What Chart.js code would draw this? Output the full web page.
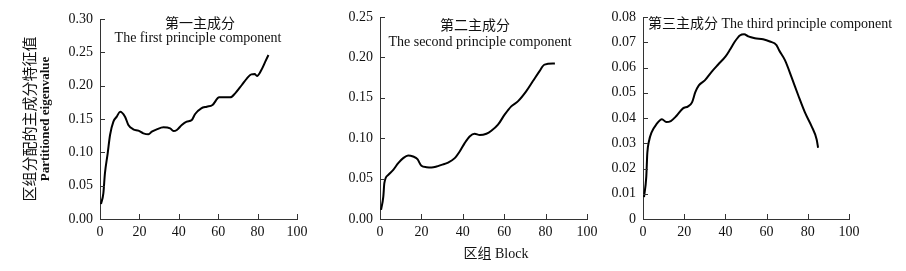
<!DOCTYPE html>
<html lang="en">
<head>
    <meta charset="UTF-8">
    <title>Partitioned eigenvalue</title>
    <style>
        body {
            margin: 0;
            padding: 0;
            background-color: #fff;
        }

        .wrap {
            position: relative;
            width: 906px;
            height: 271px;
            overflow: hidden;
        }

        .box {
            position: absolute;
            top: 0;
            height: 271px;
        }

        #box1 { left: 0; width: 320px; }
        #box2 { left: 300px; width: 310px; }
        #box3 { left: 600px; width: 306px; }
    </style>
</head>
<body>
    <div class="wrap">
        <div class="box" id="box1"><canvas id="chart1"></canvas></div>
        <div class="box" id="box2"><canvas id="chart2"></canvas></div>
        <div class="box" id="box3"><canvas id="chart3"></canvas></div>
    </div>

    <script src="https://cdn.jsdelivr.net/npm/chart.js"></script>
    <script>
        // block index (x) and eigenvalue (y)
        const blocks1 = [0.5, 1.7, 2.5, 3.9, 5.1, 6.8, 8.5, 10.2, 12.7, 14.4, 16.9, 19.5, 22, 24.6, 26.3, 28.8, 32.2, 35.6, 37.3, 39, 41.5, 44, 46.6, 48.3, 51.4, 54.2, 57.1, 60.5, 66.1, 68.6, 72, 74.6, 76.8, 78.5, 79.7, 81.9, 83.9, 85.5];
        const values1 = [0.0225, 0.0385, 0.0685, 0.0985, 0.126, 0.146, 0.1535, 0.161, 0.1535, 0.141, 0.1345, 0.1325, 0.1285, 0.127, 0.131, 0.1345, 0.1375, 0.136, 0.132, 0.1335, 0.141, 0.146, 0.1485, 0.1575, 0.166, 0.1685, 0.171, 0.1825, 0.1825, 0.1885, 0.201, 0.211, 0.217, 0.2175, 0.2145, 0.2235, 0.236, 0.246];

        const blocks2 = [0.5, 1.6, 2.1, 4, 6.4, 8.8, 11.2, 13.6, 16, 18.1, 20, 22.5, 24.9, 27.3, 29.7, 32.9, 36.1, 38.5, 40.9, 43.3, 45.7, 48.2, 51.4, 53.8, 57, 60.2, 63.4, 66.6, 70.6, 73.8, 77, 79.5, 84.5];
        const values2 = [0.0112, 0.0277, 0.0443, 0.0546, 0.0608, 0.0691, 0.0753, 0.0786, 0.0773, 0.0741, 0.0658, 0.0641, 0.0637, 0.0649, 0.067, 0.0699, 0.0753, 0.0835, 0.0939, 0.1021, 0.1055, 0.1039, 0.1055, 0.1092, 0.1167, 0.1291, 0.1394, 0.1456, 0.158, 0.1704, 0.1828, 0.1911, 0.1924];

        const blocks3 = [0.5, 1.6, 2.1, 2.9, 4.1, 6.5, 9.2, 11.3, 13.5, 16.2, 19.4, 21.9, 23.8, 25.4, 27.1, 30, 33.2, 36.5, 40, 42.1, 44.6, 47, 49.1, 51.1, 54.3, 58.3, 61.6, 64.8, 66, 68.9, 72.1, 75.4, 78.6, 81.8, 84.3, 85];
        const values3 = [0.0087, 0.0168, 0.0262, 0.0308, 0.0342, 0.0375, 0.0395, 0.0384, 0.0388, 0.0408, 0.0438, 0.0446, 0.0462, 0.0502, 0.0529, 0.0549, 0.0582, 0.0612, 0.0643, 0.0669, 0.0703, 0.0727, 0.0732, 0.0723, 0.0716, 0.0712, 0.0703, 0.0689, 0.0669, 0.0629, 0.0562, 0.0489, 0.0422, 0.0368, 0.0315, 0.0282];

        const xTicks = [0, 20, 40, 60, 80, 100];
        const yTicks1 = ['0.00', '0.05', '0.10', '0.15', '0.20', '0.25', '0.30'];
        const yTicks2 = ['0.00', '0.05', '0.10', '0.15', '0.20', '0.25'];
        const yTicks3 = ['0', '0.01', '0.02', '0.03', '0.04', '0.05', '0.06', '0.07', '0.08'];

        const titles1 = ['第一主成分', 'The first principle component'];
        const titles2 = ['第二主成分', 'The second principle component'];
        const titles3 = ['第三主成分 The third principle component'];
        const yTitle = ['区组分配的主成分特征值', 'Partitioned eigenvalue'];
        const xTitle = '区组 Block';

        const FONT = '"Liberation Serif", "Noto Sans CJK SC", serif';
        const INK = '#111';
        const AXIS = '#333';

        // short tick marks pointing into the plot, taken from the scales
        const innerTicks = {
            id: 'innerTicks',
            afterDraw(chart) {
                const ctx = chart.ctx;
                const area = chart.chartArea;
                ctx.save();
                ctx.strokeStyle = AXIS;
                ctx.lineWidth = 1;
                ctx.beginPath();
                chart.scales.x.ticks.forEach(t => {
                    const px = Math.round(chart.scales.x.getPixelForValue(t.value)) + 0.5;
                    ctx.moveTo(px, area.bottom);
                    ctx.lineTo(px, area.bottom - 5);
                });
                chart.scales.y.ticks.forEach(t => {
                    const py = Math.round(chart.scales.y.getPixelForValue(t.value)) + 0.5;
                    ctx.moveTo(area.left, py);
                    ctx.lineTo(area.left + 5, py);
                });
                ctx.stroke();
                ctx.restore();
            }
        };

        // free text (titles, axis names) placed on the canvas
        const notes = {
            id: 'notes',
            afterDraw(chart, args, opts) {
                const ctx = chart.ctx;
                (opts.items || []).forEach(n => {
                    ctx.save();
                    ctx.translate(n.x, n.y);
                    if (n.rotate) ctx.rotate(n.rotate);
                    ctx.font = n.font;
                    ctx.fillStyle = INK;
                    ctx.textAlign = n.align || 'center';
                    ctx.textBaseline = 'middle';
                    ctx.fillText(n.text, 0, 0);
                    ctx.restore();
                });
            }
        };

        function makeChart(id, blocks, values, yMax, yStep, yLabels, yWidth, pad, items) {
            const points = blocks.map((b, i) => ({ x: b, y: values[i] }));
            return new Chart(document.getElementById(id), {
                type: 'line',
                data: {
                    datasets: [{
                        data: points,
                        borderColor: '#000',
                        borderWidth: 2,
                        pointRadius: 0,
                        cubicInterpolationMode: 'monotone',
                        fill: false
                    }]
                },
                options: {
                    responsive: true,
                    maintainAspectRatio: false,
                    animation: false,
                    layout: { padding: pad },
                    plugins: {
                        legend: { display: false },
                        tooltip: { enabled: false },
                        notes: { items: items }
                    },
                    scales: {
                        x: {
                            type: 'linear',
                            min: 0,
                            max: 100,
                            afterBuildTicks: s => { s.ticks = xTicks.map(v => ({ value: v })); },
                            ticks: {
                                color: INK,
                                padding: 5,
                                maxRotation: 0,
                                autoSkip: false,
                                font: { family: FONT, size: 14 }
                            },
                            grid: { display: true, drawOnChartArea: false, drawTicks: false },
                            border: { display: true, color: AXIS, width: 1 },
                            afterFit: s => { s.height = 52; }
                        },
                        y: {
                            min: 0,
                            max: yMax,
                            ticks: {
                                stepSize: yStep,
                                color: INK,
                                padding: 7,
                                autoSkip: false,
                                font: { family: FONT, size: 14 },
                                callback: (v, i) => yLabels[i]
                            },
                            grid: { display: true, drawOnChartArea: false, drawTicks: false },
                            border: { display: true, color: AXIS, width: 1 },
                            afterFit: s => { s.width = yWidth; }
                        }
                    }
                },
                plugins: [innerTicks, notes]
            });
        }

        const cjk = '14px "Noto Sans CJK SC", sans-serif';
        const lat = '14px ' + FONT;

        makeChart('chart1', blocks1, values1, 0.30, 0.05, yTicks1, 100,
            { left: 0, right: 23, top: 19, bottom: 0 }, [
                { text: titles1[0], x: 200, y: 23, font: cjk },
                { text: titles1[1], x: 198, y: 38, font: lat },
                { text: yTitle[0], x: 29, y: 119, font: '15px "Noto Sans CJK SC", sans-serif', rotate: -Math.PI / 2 },
                { text: yTitle[1], x: 46, y: 119, font: 'bold 13px ' + FONT, rotate: -Math.PI / 2 }
            ]);

        makeChart('chart2', blocks2, values2, 0.25, 0.05, yTicks2, 80,
            { left: 0, right: 23, top: 17, bottom: 0 }, [
                { text: titles2[0], x: 175, y: 25, font: cjk },
                { text: titles2[1], x: 180, y: 42, font: lat },
                { text: xTitle, x: 196, y: 254, font: lat }
            ]);

        makeChart('chart3', blocks3, values3, 0.08, 0.01, yTicks3, 43,
            { left: 0, right: 57, top: 17, bottom: 0 }, [
                { text: titles3[0], x: 48, y: 24, font: lat, align: 'left' }
            ]);
    </script>
</body>
</html>
